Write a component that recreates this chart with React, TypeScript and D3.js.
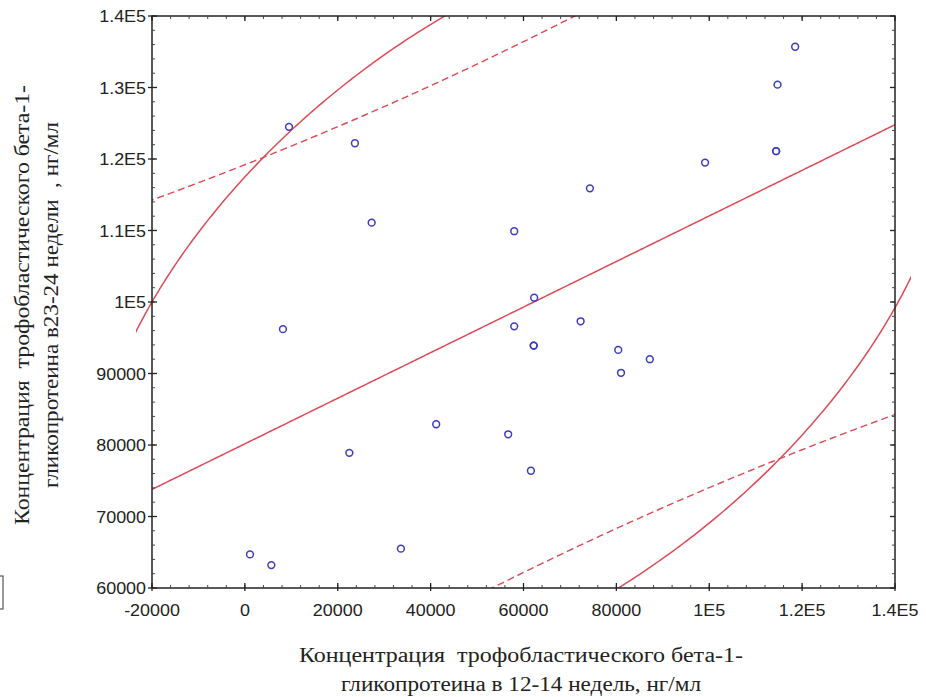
import React from 'react';
import * as d3 from 'd3';

// ---- data ----
const xValues = [1100, 5700, 8200, 9500, 22500, 23700, 27300, 33600, 41200, 56700, 58000, 58000, 61600, 62200, 62200, 62300, 72300, 74300, 80400, 81000, 87200, 99100, 114400, 114400, 114700, 118500];
const yValues = [64700, 63200, 96200, 124500, 78900, 122200, 111100, 65500, 82900, 81500, 109900, 96600, 76400, 93900, 93900, 100600, 97300, 115900, 93300, 90100, 92000, 119500, 121100, 121100, 130400, 135700];

const xTickValues = [-20000, 0, 20000, 40000, 60000, 80000, 100000, 120000, 140000];
const xTickLabels = ['-20000', '0', '20000', '40000', '60000', '80000', '1E5', '1.2E5', '1.4E5'];
const yTickValues = [60000, 70000, 80000, 90000, 100000, 110000, 120000, 130000, 140000];
const yTickLabels = ['60000', '70000', '80000', '90000', '1E5', '1.1E5', '1.2E5', '1.3E5', '1.4E5'];

const xTitle = ['Концентрация  трофобластического бета-1-', 'гликопротеина в 12-14 недель, нг/мл'];
const yTitle = ['Концентрация  трофобластического бета-1-', 'гликопротеина в23-24 недели  , нг/мл'];

const T_CRIT = 2.064; // t(0.975, n-2)
const ELLIPSE_C = 2.58; // ellipse radius in Mahalanobis units
const ELLIPSE_R_FACTOR = 0.905; // correlation shrink used for the ellipse

const W = 926, H = 697;
const L = 152, R = 895, T = 16, B = 588;
const RED = '#dd4a56';
const BLUE = '#3b3bc4';

export default function App() {
  const x = d3.scaleLinear().domain([-20000, 140000]).range([L, R]);
  const y = d3.scaleLinear().domain([60000, 140000]).range([B, T]);

  const n = xValues.length;
  const mx = d3.mean(xValues)!;
  const my = d3.mean(yValues)!;
  let sxx = 0, syy = 0, sxy = 0;
  for (let i = 0; i < n; i++) {
    const dx = xValues[i] - mx, dy = yValues[i] - my;
    sxx += dx * dx; syy += dy * dy; sxy += dx * dy;
  }
  const b = sxy / sxx;
  const a = my - b * mx;
  const sse = syy - (sxy * sxy) / sxx;
  const s = Math.sqrt(sse / (n - 2));

  const xs = d3.range(-30000, 150001, 500);
  const line = d3.line<[number, number]>().x(d => x(d[0])).y(d => y(d[1]));
  const fitPath = line(xs.map(v => [v, a + b * v] as [number, number]))!;
  const half = (v: number) => T_CRIT * s * Math.sqrt(1 + 1 / n + ((v - mx) * (v - mx)) / sxx);
  const upPath = line(xs.map(v => [v, a + b * v + half(v)] as [number, number]))!;
  const loPath = line(xs.map(v => [v, a + b * v - half(v)] as [number, number]))!;

  const sdx = Math.sqrt(sxx / (n - 1)), sdy = Math.sqrt(syy / (n - 1));
  const rr = (sxy / Math.sqrt(sxx * syy)) * ELLIPSE_R_FACTOR;
  const ts = d3.range(0, 2 * Math.PI + 0.001, Math.PI / 360);
  const ellPath = line(ts.map(t => [
    mx + ELLIPSE_C * sdx * Math.cos(t),
    my + ELLIPSE_C * sdy * (rr * Math.cos(t) + Math.sqrt(1 - rr * rr) * Math.sin(t)),
  ] as [number, number]))! + 'Z';

  const xMinor = d3.range(-20000, 140001, 4000);
  const yMinor = d3.range(60000, 140001, 2000);

  const tickFont = { fontFamily: '"Liberation Sans", Arial, sans-serif', fontSize: 16, fill: '#222' };
  const titleFont = { fontFamily: '"Liberation Serif", "Times New Roman", serif', fontSize: 20, fill: '#222', style: { whiteSpace: 'pre' as const } };

  return (
    <svg width={W} height={H} style={{ position: 'absolute', left: 0, top: 0, background: '#fff' }}>
      <defs>
        <clipPath id="plotClip"><rect x={L} y={T} width={R - L} height={B - T} /></clipPath>
        <clipPath id="ellClip"><rect x={L - 16} y={T} width={R - L + 32} height={B - T} /></clipPath>
      </defs>
      <rect x={0} y={0} width={W} height={H} fill="#fff" />

      {/* small box at the left edge */}
      <rect x={-20} y={576} width={23} height={33} fill="none" stroke="#555" strokeWidth={1.2} />

      {/* bands and fit */}
      <g clipPath="url(#ellClip)">
        <path d={ellPath} fill="none" stroke={RED} strokeWidth={1.5} />
      </g>
      <g clipPath="url(#plotClip)">
        <path d={upPath} fill="none" stroke={RED} strokeWidth={1.4} strokeDasharray="7,4" />
        <path d={loPath} fill="none" stroke={RED} strokeWidth={1.4} strokeDasharray="7,4" />
        <path d={fitPath} fill="none" stroke={RED} strokeWidth={1.5} />
      </g>

      {/* points */}
      {xValues.map((v, i) => (
        <circle key={i} cx={x(v)} cy={y(yValues[i])} r={3.4} fill="none" stroke={BLUE} strokeWidth={1.5} />
      ))}

      {/* frame */}
      <rect x={L} y={T} width={R - L} height={B - T} fill="none" stroke="#222" strokeWidth={1.5} />

      {/* minor ticks */}
      {xMinor.map((v, i) => (
        <g key={'xm' + i} stroke="#444" strokeWidth={1}>
          <line x1={x(v)} x2={x(v)} y1={B} y2={B - 3} />
          <line x1={x(v)} x2={x(v)} y1={T} y2={T + 3} />
        </g>
      ))}
      {yMinor.map((v, i) => (
        <g key={'ym' + i} stroke="#444" strokeWidth={1}>
          <line x1={L} x2={L + 3} y1={y(v)} y2={y(v)} />
          <line x1={R} x2={R - 3} y1={y(v)} y2={y(v)} />
        </g>
      ))}
      {/* major ticks */}
      {xTickValues.map((v, i) => (
        <g key={'xM' + i} stroke="#222" strokeWidth={1.3}>
          <line x1={x(v)} x2={x(v)} y1={B + 3} y2={B - 5} />
          <line x1={x(v)} x2={x(v)} y1={T} y2={T + 5} />
        </g>
      ))}
      {yTickValues.map((v, i) => (
        <g key={'yM' + i} stroke="#222" strokeWidth={1.3}>
          <line x1={L - 4} x2={L + 5} y1={y(v)} y2={y(v)} />
          <line x1={R} x2={R - 5} y1={y(v)} y2={y(v)} />
        </g>
      ))}

      {/* tick labels */}
      {xTickValues.map((v, i) => (
        <text key={'xl' + i} transform={`translate(${x(v)},${B + 28}) scale(1.12,1)`} textAnchor="middle" {...tickFont}>{xTickLabels[i]}</text>
      ))}
      {yTickValues.map((v, i) => (
        <text key={'yl' + i} transform={`translate(${L - 6},${y(v) + 6}) scale(1.12,1)`} textAnchor="end" {...tickFont}>{yTickLabels[i]}</text>
      ))}

      {/* axis titles */}
      <text x={521} y={662} textAnchor="middle" {...titleFont} textLength={444} lengthAdjust="spacingAndGlyphs">{xTitle[0]}</text>
      <text x={521} y={691} textAnchor="middle" {...titleFont} textLength={360} lengthAdjust="spacingAndGlyphs">{xTitle[1]}</text>
      <text transform={`translate(29,305) rotate(-90)`} textAnchor="middle" {...titleFont} textLength={440} lengthAdjust="spacingAndGlyphs">{yTitle[0]}</text>
      <text transform={`translate(58,305) rotate(-90)`} textAnchor="middle" {...titleFont} textLength={366} lengthAdjust="spacingAndGlyphs">{yTitle[1]}</text>
    </svg>
  );
}
